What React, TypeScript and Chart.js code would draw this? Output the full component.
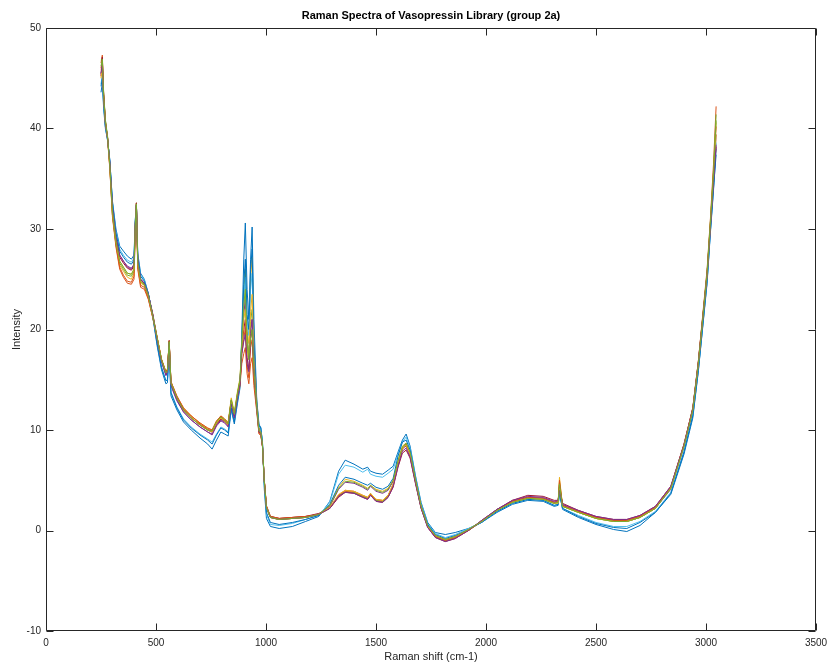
import { useEffect, useRef } from "react";
import { Chart, registerables } from "chart.js";

Chart.register(...registerables);

// Raman shift grid (cm-1)
const shifts = [
  250, 256, 262, 270, 280, 290, 302, 318, 335, 352, 370, 388, 400,
  406, 411, 417, 430, 447, 465, 485, 505, 525, 545, 552, 560, 568,
  595, 625, 660, 700, 735, 755, 775, 795, 812, 828, 842, 856, 870, 882,
  890, 899, 906, 914, 922, 930, 937, 945, 958, 968, 976, 984, 992, 1002,
  1020, 1060, 1120, 1180, 1240, 1290, 1330, 1360, 1400, 1440, 1462, 1475, 1500, 1530, 1555,
  1578, 1600, 1620, 1637, 1655, 1680, 1705, 1735, 1770, 1815, 1860, 1920, 1980,
  2050, 2120, 2190, 2260, 2310, 2328, 2334, 2348, 2420, 2500, 2580, 2640, 2700,
  2770, 2840, 2900, 2940, 2965, 2985, 3005, 3020, 3034, 3046,
];

const spectrum01 = [
  43.6, 44.5, 42.0, 40.0, 38.8, 36.8, 32.8, 30.0, 28.3, 27.8, 27.3, 27.0, 27.4,
  31.0, 32.4, 27.6, 25.6, 25.0, 23.6, 21.3, 18.4, 16.0, 14.6, 14.7, 17.8, 13.4,
  12.0, 10.8, 10.0, 9.2, 8.6, 8.1, 9.0, 9.8, 9.6, 9.4, 12.0, 10.6, 12.6, 14.2,
  19.5, 27.0, 30.6, 24.0, 21.0, 27.0, 30.2, 21.0, 13.0, 10.6, 10.2, 8.8, 4.2, 1.2,
  0.4, 0.2, 0.4, 0.9, 1.4, 2.9, 5.9, 7.0, 6.6, 6.1, 6.3, 5.9, 5.7, 5.6, 6.0,
  6.4, 7.8, 9.0, 9.6, 8.4, 5.4, 2.8, 0.8, -0.2, -0.4, -0.2, 0.2, 0.8,
  1.8, 2.6, 3.0, 2.9, 2.4, 2.5, 3.8, 2.1, 1.3, 0.6, 0.1, -0.1, 0.5,
  1.8, 3.6, 7.6, 11.2, 15.8, 20.2, 24.6, 29.6, 33.8, 38.0,
];
const spectrum02 = [
  46.5, 47.3, 43.5, 40.8, 38.9, 36.0, 31.2, 28.2, 26.0, 25.2, 24.6, 24.5, 25.0,
  30.0, 32.6, 26.0, 24.2, 24.0, 23.0, 21.2, 19.2, 17.0, 15.8, 16.0, 18.9, 14.8,
  13.3, 12.1, 11.4, 10.6, 10.1, 9.9, 10.8, 11.3, 11.0, 10.6, 12.9, 11.4, 13.4, 14.6,
  17.6, 19.0, 20.2, 16.4, 15.2, 18.2, 19.0, 15.2, 12.0, 9.7, 9.6, 8.4, 5.0, 2.4,
  1.4, 1.2, 1.3, 1.4, 1.6, 2.2, 3.4, 3.9, 3.8, 3.4, 3.2, 3.6, 3.0, 2.9, 3.4,
  4.5, 6.6, 8.1, 8.5, 7.5, 4.8, 2.3, 0.4, -0.6, -1.0, -0.7, 0.0, 0.9,
  2.0, 2.9, 3.3, 3.2, 2.8, 2.9, 4.6, 2.5, 1.9, 1.3, 1.0, 1.0, 1.4,
  2.3, 4.3, 8.6, 12.2, 16.8, 21.4, 26.0, 31.0, 36.4, 42.2,
];
const spectrum03 = [
  45.8, 46.6, 43.2, 40.6, 39.1, 36.4, 31.6, 28.6, 26.4, 25.8, 25.2, 25.0, 25.6,
  30.2, 32.3, 26.4, 24.6, 24.4, 23.4, 21.5, 19.3, 17.1, 15.8, 16.0, 18.7, 14.8,
  13.3, 12.2, 11.4, 10.7, 10.2, 10.0, 10.9, 11.4, 11.1, 10.8, 13.2, 11.8, 13.8, 15.2,
  18.8, 22.0, 24.2, 19.8, 18.6, 25.0, 27.2, 18.4, 12.8, 10.2, 10.0, 8.6, 5.1, 2.3,
  1.3, 1.1, 1.2, 1.3, 1.6, 2.5, 4.3, 5.1, 4.9, 4.5, 4.2, 4.5, 4.1, 3.9, 4.2,
  5.0, 7.0, 8.4, 8.7, 7.8, 5.0, 2.4, 0.5, -0.5, -0.9, -0.6, 0.1, 0.9,
  2.0, 2.8, 3.2, 3.1, 2.7, 2.8, 5.3, 2.4, 1.8, 1.2, 0.9, 0.9, 1.3,
  2.2, 4.2, 8.4, 12.0, 16.6, 21.0, 25.6, 30.6, 35.4, 40.6,
];
const spectrum04 = [
  45.4, 46.2, 43.0, 40.4, 39.0, 36.6, 32.2, 29.2, 27.4, 26.8, 26.2, 26.0, 26.4,
  30.4, 32.4, 27.0, 25.0, 24.6, 23.5, 21.5, 19.0, 16.8, 15.4, 15.7, 18.6, 14.4,
  12.9, 11.8, 11.0, 10.3, 9.8, 9.6, 10.5, 11.0, 10.8, 10.4, 12.7, 11.3, 13.4, 14.8,
  18.4, 21.5, 23.0, 18.8, 17.4, 20.2, 21.0, 16.6, 12.4, 9.9, 9.8, 8.5, 5.0, 2.2,
  1.3, 1.1, 1.2, 1.3, 1.6, 2.4, 4.1, 4.8, 4.7, 4.3, 4.0, 4.4, 3.9, 3.7, 4.0,
  4.9, 6.8, 8.2, 8.4, 7.6, 4.9, 2.4, 0.5, -0.5, -0.9, -0.6, 0.1, 0.9,
  2.1, 2.9, 3.3, 3.2, 2.8, 2.9, 4.4, 2.5, 1.9, 1.3, 1.0, 0.9, 1.3,
  2.2, 4.1, 8.3, 11.8, 16.4, 20.8, 25.2, 30.2, 34.8, 39.4,
];
const spectrum05 = [
  46.8, 47.0, 43.6, 40.9, 39.2, 36.2, 31.4, 28.5, 26.6, 26.0, 25.4, 25.3, 25.8,
  30.8, 32.6, 26.6, 24.8, 24.4, 23.3, 21.3, 19.1, 16.9, 15.6, 15.9, 18.8, 14.6,
  13.2, 12.0, 11.2, 10.5, 10.0, 9.8, 10.7, 11.2, 10.9, 10.6, 13.0, 11.6, 13.6, 15.0,
  19.0, 23.6, 26.0, 19.4, 17.6, 20.8, 22.0, 16.8, 12.4, 9.9, 9.7, 8.4, 4.9, 2.2,
  1.3, 1.1, 1.2, 1.3, 1.6, 2.2, 3.5, 3.8, 3.8, 3.4, 3.2, 3.7, 3.0, 2.9, 3.4,
  4.6, 6.6, 8.2, 8.6, 7.6, 4.8, 2.3, 0.4, -0.6, -1.0, -0.7, 0.0, 0.9,
  2.0, 2.8, 3.2, 3.1, 2.7, 2.8, 4.8, 2.4, 1.8, 1.2, 0.9, 0.9, 1.3,
  2.2, 4.2, 8.5, 12.1, 16.7, 21.2, 25.8, 30.8, 35.8, 41.4,
];
const spectrum06 = [
  44.4, 45.4, 42.6, 40.2, 38.8, 36.8, 32.6, 29.8, 28.0, 27.4, 26.9, 26.7, 27.1,
  30.9, 32.4, 27.4, 25.5, 24.9, 23.6, 21.4, 18.7, 16.3, 14.9, 15.0, 18.2, 13.8,
  12.3, 11.1, 10.3, 9.6, 9.1, 8.8, 9.6, 10.3, 10.1, 9.8, 12.3, 10.9, 13.0, 14.6,
  18.8, 23.0, 25.2, 20.8, 19.4, 24.0, 25.6, 18.0, 12.6, 10.3, 10.2, 8.7, 4.6, 1.6,
  0.6, 0.5, 0.7, 1.1, 1.5, 2.8, 5.6, 6.5, 6.3, 5.8, 6.1, 5.6, 5.4, 5.3, 5.7,
  6.1, 7.6, 8.8, 9.3, 8.2, 5.3, 2.7, 0.7, -0.3, -0.7, -0.4, 0.2, 0.8,
  1.9, 2.7, 3.1, 3.0, 2.5, 2.6, 4.0, 2.2, 1.5, 0.8, 0.4, 0.4, 0.9,
  1.9, 3.8, 7.9, 11.5, 16.0, 20.4, 24.8, 29.8, 34.2, 38.6,
];
const spectrum07 = [
  45.2, 47.1, 43.4, 40.6, 39.0, 36.5, 32.0, 29.0, 27.2, 26.6, 26.1, 25.9, 26.3,
  30.6, 32.6, 26.9, 25.0, 24.6, 23.5, 21.6, 19.2, 17.0, 15.7, 15.9, 18.9, 14.7,
  13.2, 12.0, 11.2, 10.5, 10.0, 9.8, 10.6, 11.1, 10.9, 10.5, 12.8, 11.4, 13.4, 14.8,
  18.0, 20.0, 21.0, 17.2, 16.0, 19.0, 20.0, 15.8, 12.2, 9.8, 9.7, 8.4, 5.1, 2.4,
  1.4, 1.2, 1.3, 1.4, 1.7, 2.2, 3.3, 3.8, 3.7, 3.3, 3.1, 3.5, 2.9, 2.8, 3.3,
  4.3, 6.3, 7.7, 8.0, 7.2, 4.6, 2.2, 0.3, -0.7, -1.1, -0.8, 0.0, 1.0,
  2.1, 3.0, 3.5, 3.4, 3.0, 3.0, 4.2, 2.7, 2.0, 1.4, 1.1, 1.1, 1.5,
  2.4, 4.4, 8.6, 12.2, 16.8, 21.2, 25.6, 30.4, 34.6, 38.2,
];
const spectrum08 = [
  44.2, 45.0, 42.4, 40.2, 38.9, 36.9, 32.6, 29.6, 27.8, 27.2, 26.7, 26.5, 26.9,
  30.7, 32.4, 27.3, 25.3, 24.8, 23.6, 21.4, 18.6, 16.2, 14.9, 15.0, 18.1, 13.7,
  12.2, 11.0, 10.2, 9.5, 9.0, 8.6, 9.5, 10.2, 10.0, 9.7, 12.2, 10.8, 12.9, 14.5,
  19.0, 24.5, 27.0, 21.5, 20.0, 26.0, 28.0, 18.8, 12.8, 10.4, 10.3, 8.8, 4.8, 1.8,
  0.8, 0.6, 0.8, 1.1, 1.5, 2.6, 4.5, 5.3, 5.1, 4.7, 4.5, 4.7, 4.3, 4.1, 4.4,
  5.2, 7.4, 8.8, 9.0, 8.0, 5.1, 2.5, 0.6, -0.4, -0.8, -0.5, 0.1, 0.8,
  1.9, 2.7, 3.1, 3.0, 2.5, 2.6, 3.6, 2.2, 1.4, 0.7, 0.3, 0.2, 0.8,
  1.8, 3.7, 7.8, 11.4, 15.9, 20.3, 24.8, 29.8, 34.0, 37.4,
];
const spectrum09 = [
  46.0, 46.8, 43.4, 40.7, 39.0, 36.1, 31.4, 28.4, 26.2, 25.4, 24.8, 24.7, 25.3,
  30.1, 32.5, 26.2, 24.4, 24.2, 23.1, 21.2, 19.2, 17.0, 15.8, 16.1, 18.8, 14.8,
  13.4, 12.2, 11.4, 10.7, 10.2, 10.0, 10.9, 11.4, 11.1, 10.7, 12.9, 11.5, 13.3, 14.4,
  16.6, 17.6, 18.2, 15.6, 14.6, 16.6, 17.2, 14.4, 11.8, 9.6, 9.5, 8.3, 5.1, 2.5,
  1.4, 1.2, 1.3, 1.4, 1.6, 2.3, 3.5, 4.0, 3.9, 3.5, 3.3, 3.6, 3.1, 3.0, 3.5,
  4.6, 6.6, 8.1, 8.6, 7.6, 4.9, 2.4, 0.4, -0.6, -1.0, -0.7, 0.0, 0.9,
  2.0, 2.9, 3.3, 3.2, 2.8, 2.9, 5.0, 2.5, 1.9, 1.3, 1.0, 1.0, 1.4,
  2.3, 4.3, 8.5, 12.1, 16.7, 21.1, 25.6, 30.6, 35.6, 40.2,
];
const spectrum10 = [
  45.0, 46.2, 43.0, 40.5, 39.0, 36.3, 31.8, 28.8, 26.8, 26.2, 25.6, 25.5, 26.0,
  30.3, 32.4, 26.7, 24.8, 24.5, 23.4, 21.4, 19.1, 16.9, 15.6, 15.8, 18.7, 14.6,
  13.1, 11.9, 11.2, 10.5, 10.0, 9.8, 10.7, 11.2, 10.9, 10.5, 12.8, 11.5, 13.5, 14.9,
  18.2, 21.0, 22.0, 18.0, 17.0, 21.8, 23.5, 16.9, 12.3, 9.9, 9.8, 8.5, 5.0, 2.3,
  1.3, 1.1, 1.2, 1.3, 1.6, 2.3, 3.6, 4.0, 3.9, 3.5, 3.3, 3.7, 3.1, 3.0, 3.5,
  4.6, 6.7, 8.2, 8.5, 7.6, 4.9, 2.4, 0.4, -0.5, -0.9, -0.6, 0.1, 0.9,
  2.0, 2.8, 3.2, 3.1, 2.7, 2.7, 4.2, 2.4, 1.8, 1.2, 0.9, 0.9, 1.3,
  2.2, 4.2, 8.4, 12.0, 16.5, 21.0, 25.4, 30.4, 35.0, 39.4,
];
const spectrum11 = [
  45.5, 46.4, 43.1, 40.5, 39.0, 36.6, 32.2, 29.2, 27.4, 26.8, 26.3, 26.1, 26.5,
  30.5, 32.4, 27.0, 25.0, 24.6, 23.5, 21.5, 19.0, 16.8, 15.5, 15.8, 18.7, 14.5,
  13.0, 11.8, 11.0, 10.3, 9.8, 9.5, 10.4, 10.9, 10.7, 10.3, 12.6, 11.2, 13.2, 14.6,
  17.6, 18.8, 19.5, 16.6, 15.8, 19.6, 21.0, 16.2, 12.2, 9.8, 9.7, 8.4, 5.0, 2.3,
  1.3, 1.1, 1.2, 1.3, 1.6, 2.2, 3.4, 3.8, 3.7, 3.3, 3.1, 3.5, 2.9, 2.8, 3.3,
  4.4, 6.4, 7.9, 8.2, 7.3, 4.7, 2.2, 0.3, -0.7, -1.1, -0.8, 0.0, 1.0,
  2.1, 3.0, 3.4, 3.3, 2.9, 3.0, 4.0, 2.6, 2.0, 1.4, 1.1, 1.1, 1.5,
  2.4, 4.4, 8.5, 12.1, 16.6, 21.0, 25.4, 30.2, 34.6, 38.4,
];
const spectrum12 = [
  46.2, 46.9, 43.3, 40.7, 39.1, 36.4, 31.8, 28.8, 26.8, 26.2, 25.6, 25.5, 26.0,
  30.4, 32.5, 26.7, 24.8, 24.5, 23.4, 21.4, 19.2, 17.0, 15.7, 15.9, 18.8, 14.7,
  13.2, 12.0, 11.2, 10.5, 10.0, 9.9, 10.8, 11.3, 11.0, 10.6, 13.0, 11.6, 13.6, 15.0,
  18.6, 22.4, 24.0, 18.6, 17.0, 19.2, 20.0, 16.0, 12.3, 9.9, 9.8, 8.5, 5.0, 2.3,
  1.3, 1.1, 1.2, 1.3, 1.6, 2.5, 4.2, 4.9, 4.8, 4.4, 4.1, 4.5, 4.0, 3.8, 4.1,
  5.0, 6.9, 8.3, 8.7, 7.8, 5.0, 2.4, 0.5, -0.5, -0.9, -0.6, 0.1, 0.9,
  2.0, 2.8, 3.2, 3.1, 2.7, 2.8, 4.6, 2.4, 1.8, 1.2, 0.9, 0.9, 1.3,
  2.2, 4.2, 8.4, 12.0, 16.6, 21.0, 25.6, 30.6, 35.4, 40.8,
];

const spectra = [
  spectrum01, spectrum02, spectrum03, spectrum04, spectrum05, spectrum06,
  spectrum07, spectrum08, spectrum09, spectrum10, spectrum11, spectrum12,
];

const lineColors = [
  "#0072BD", "#D95319", "#EDB120", "#7E2F8E", "#77AC30", "#4DBEEE", "#A2142F",
];

const xTicks = [0, 500, 1000, 1500, 2000, 2500, 3000, 3500];
const yTicks = [-10, 0, 10, 20, 30, 40, 50];

const titleText = "Raman Spectra of Vasopressin Library (group 2a)";
const xLabel = "Raman shift (cm-1)";
const yLabel = "Intensity";

const FONT = "'Liberation Sans', Arial, Helvetica, sans-serif";
const AXIS_COLOR = "#262626";

const matlabAxes = {
  id: "matlabAxes",
  afterDraw(chart: any) {
    const { ctx, chartArea: a, scales } = chart;
    const xs = scales.x;
    const ys = scales.y;
    const L = Math.round(a.left) + 0.5;
    const R = Math.round(a.right) - 0.5;
    const T = Math.round(a.top) + 0.5;
    const B = Math.round(a.bottom) - 0.5;
    const tl = 7;
    ctx.save();
    ctx.strokeStyle = AXIS_COLOR;
    ctx.lineWidth = 1;
    ctx.beginPath();
    ctx.rect(L, T, R - L, B - T);
    for (const v of xTicks) {
      const p = Math.round(xs.getPixelForValue(v)) + 0.5;
      ctx.moveTo(p, B);
      ctx.lineTo(p, B - tl);
      ctx.moveTo(p, T);
      ctx.lineTo(p, T + tl);
    }
    for (const v of yTicks) {
      const p = Math.round(ys.getPixelForValue(v)) + 0.5;
      ctx.moveTo(L, p);
      ctx.lineTo(L + tl, p);
      ctx.moveTo(R, p);
      ctx.lineTo(R - tl, p);
    }
    ctx.stroke();

    const cx = (a.left + a.right) / 2;
    const cy = (a.top + a.bottom) / 2;
    ctx.textAlign = "center";
    ctx.textBaseline = "middle";
    ctx.fillStyle = "#000000";
    ctx.font = `bold 11px ${FONT}`;
    ctx.fillText(titleText, cx, 16);
    ctx.fillStyle = AXIS_COLOR;
    ctx.font = `11px ${FONT}`;
    ctx.fillText(xLabel, cx, 657);
    ctx.translate(17, cy);
    ctx.rotate(-Math.PI / 2);
    ctx.fillText(yLabel, 0, 0);
    ctx.restore();
  },
};

export default function App() {
  const canvasRef = useRef<HTMLCanvasElement | null>(null);

  useEffect(() => {
    document.body.style.margin = "0";
    const canvas = canvasRef.current;
    if (!canvas) return;
    const n = spectra.length;
    const datasets = spectra.map((vals, i) => ({
      label: `Spectrum ${i + 1}`,
      data: vals.map((y, j) => ({ x: shifts[j], y })),
      borderColor: lineColors[i % lineColors.length],
      backgroundColor: lineColors[i % lineColors.length],
      borderWidth: 1,
      pointRadius: 0,
      pointHoverRadius: 0,
      tension: 0,
      fill: false,
      order: n - i,
    }));

    const chart = new Chart(canvas, {
      type: "line",
      data: { datasets },
      options: {
        animation: false,
        responsive: false,
        devicePixelRatio: 1,
        layout: { padding: { top: 28, right: 12, bottom: 0, left: 0 } },
        plugins: {
          legend: { display: false },
          title: { display: false },
          tooltip: { enabled: false },
        },
        scales: {
          x: {
            type: "linear",
            min: 0,
            max: 3500,
            grid: { display: false, drawTicks: false },
            border: { display: false },
            ticks: {
              stepSize: 500,
              maxRotation: 0,
              autoSkip: false,
              padding: 6,
              color: AXIS_COLOR,
              font: { family: FONT, size: 10 },
              callback: (v: any) => String(v),
            },
            afterFit: (s: any) => {
              s.height = 33;
              s.paddingLeft = 0;
              s.paddingRight = 0;
            },
          },
          y: {
            type: "linear",
            min: -10,
            max: 50,
            grid: { display: false, drawTicks: false },
            border: { display: false },
            ticks: {
              stepSize: 10,
              padding: 5,
              color: AXIS_COLOR,
              font: { family: FONT, size: 10 },
              callback: (v: any) => String(v),
            },
            afterFit: (s: any) => {
              s.width = 46;
              s.paddingTop = 0;
              s.paddingBottom = 0;
            },
          },
        },
      },
      plugins: [matlabAxes],
    });

    return () => {
      chart.destroy();
    };
  }, []);

  return (
    <div style={{ width: 828, height: 664, background: "#ffffff" }}>
      <canvas ref={canvasRef} width={828} height={664} style={{ display: "block" }} />
    </div>
  );
}
